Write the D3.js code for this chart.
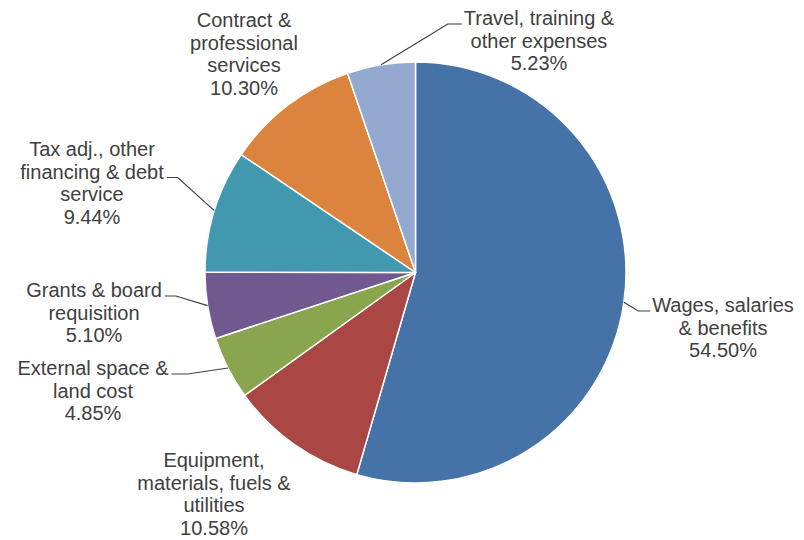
<!DOCTYPE html>
<html>
<head>
<meta charset="utf-8">
<script src="https://cdn.jsdelivr.net/npm/d3@7"></script>
<style>
  body { margin: 0; background: #fff; }
  svg { display: block; }
  text { font-family: "Liberation Sans", Arial, sans-serif; font-size: 20px; fill: #404040; }
</style>
</head>
<body>
<svg id="chart" width="804" height="540"></svg>
<script>
// slice data, clockwise from 12 o'clock
var categories = [
    ["Wages, salaries", "& benefits"],
    ["Equipment,", "materials, fuels &", "utilities"],
    ["External space &", "land cost"],
    ["Grants & board", "requisition"],
    ["Tax adj., other", "financing & debt", "service"],
    ["Contract &", "professional", "services"],
    ["Travel, training &", "other expenses"]
];
var values = [54.50, 10.58, 4.85, 5.10, 9.44, 10.30, 5.23];
var colors = ["#4572A7", "#AA4643", "#89A54E", "#71588F", "#4198AF", "#DB843D", "#93A9CF"];

// label placement: block centre x, first line y, leader line index & side
var labelLayout = [
    { x: 723, y: 305, hookLine: 0, side: "left" },
    { x: 214, y: 460, hookLine: null },
    { x: 93, y: 368, hookLine: 0, side: "right" },
    { x: 94, y: 290, hookLine: 0, side: "right" },
    { x: 92, y: 149, hookLine: 1, side: "right" },
    { x: 244, y: 20, hookLine: null },
    { x: 539, y: 18, hookLine: 0, side: "left" }
];

var cx = 415.5, cy = 272.5, radius = 210.5, lineH = 22.5;

var svg = d3.select("#chart");
var g = svg.append("g").attr("transform", "translate(" + cx + "," + cy + ")");

var pie = d3.pie().sort(null).value(function (d) { return d; });
var arcs = pie(values);
var arc = d3.arc().innerRadius(0).outerRadius(radius);

g.selectAll("path.slice")
    .data(arcs)
    .join("path")
    .attr("class", "slice")
    .attr("d", arc)
    .attr("fill", function (d, i) { return colors[i]; })
    .attr("stroke", "#fff")
    .attr("stroke-width", 1.5)
    .attr("stroke-linejoin", "round");

arcs.forEach(function (d, i) {
    var lay = labelLayout[i];
    var lines = categories[i].concat([d3.format(".2f")(values[i]) + "%"]);
    var t = svg.append("text").attr("text-anchor", "middle");
    lines.forEach(function (s, k) {
        t.append("tspan")
            .attr("x", lay.x)
            .attr("y", lay.y + k * lineH)
            .attr("dy", "0.35em")
            .text(s);
    });

    if (lay.hookLine === null) return;

    // leader line: slice edge -> elbow -> beside the label line
    var mid = (d.startAngle + d.endAngle) / 2;
    var ex = cx + radius * Math.sin(mid), ey = cy - radius * Math.cos(mid);
    var tsp = t.selectAll("tspan").nodes()[lay.hookLine];
    var w = tsp.getComputedTextLength();
    var hy = lay.y + lay.hookLine * lineH + 6;
    var hx, elbowX;
    if (lay.side === "right") {
        hx = lay.x + w / 2 + 3;
        elbowX = hx + (i === 2 ? 16 : 11);
    } else {
        hx = lay.x - w / 2 - 2;
        elbowX = hx - (i === 6 ? 14 : 12);
    }
    svg.append("path")
        .attr("d", d3.line()([[ex, ey], [elbowX, hy], [hx, hy]]))
        .attr("fill", "none")
        .attr("stroke", "#404040")
        .attr("stroke-width", 1.2);
});
</script>
</body>
</html>
